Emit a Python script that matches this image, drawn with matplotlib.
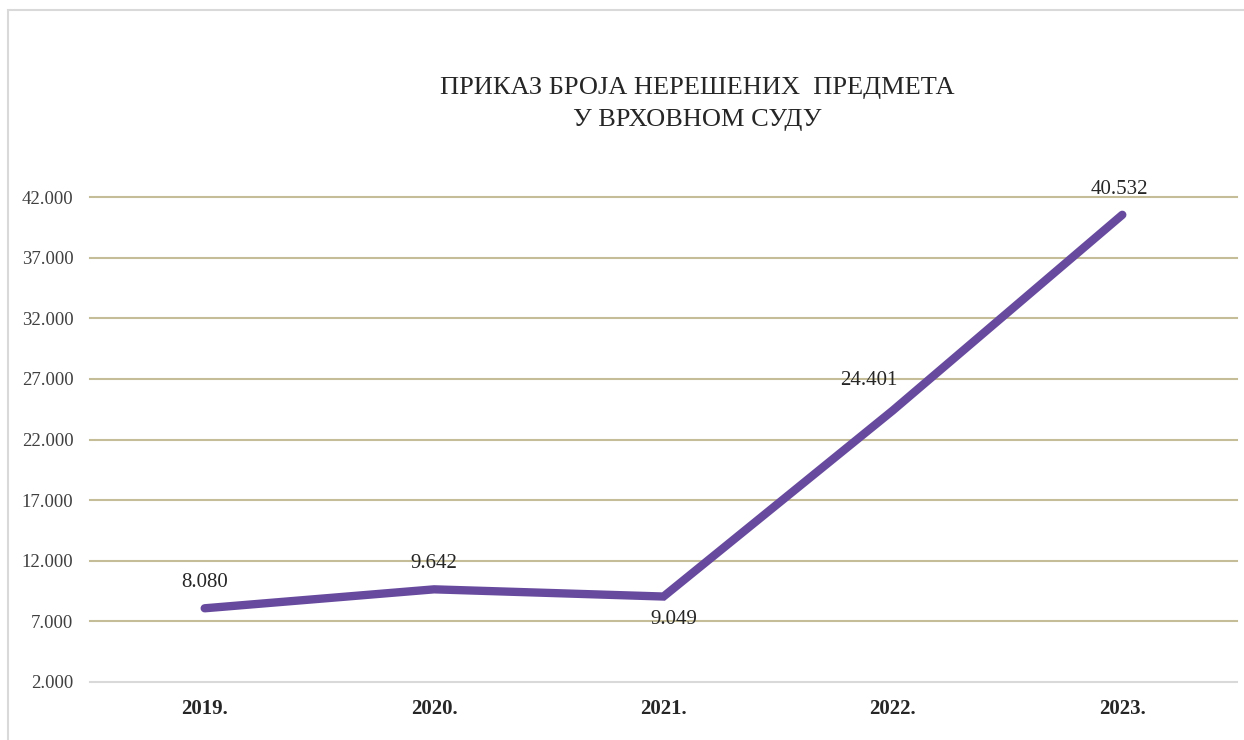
import matplotlib.pyplot as plt
from matplotlib.patches import Rectangle
from matplotlib.ticker import FuncFormatter

years = ['2019.', '2020.', '2021.', '2022.', '2023.']
unresolved = [8080, 9642, 9049, 24401, 40532]
tick_values = [2000, 7000, 12000, 17000, 22000, 27000, 32000, 37000, 42000]
# label offsets in pixels (dx, dy) relative to each point
label_offsets = [(0, 26), (0, 26), (10, -23), (-24, 30), (-3, 25)]

plt.rcParams['font.family'] = ['Liberation Serif', 'DejaVu Serif']

figure = plt.figure(figsize=(12.44, 7.4), dpi=100)
axes = figure.add_axes([90 / 1244, 58 / 740, 1147 / 1244, 485 / 740])

# outer frame (only left and top edges visible)
figure.patches.append(Rectangle((8 / 1244, -0.1), 1.2, 0.1 + 730 / 740,
                                transform=figure.transFigure, fill=False,
                                edgecolor='#D9D9D9', linewidth=1.5))

x = list(range(len(years)))
axes.plot(x, unresolved, color='#674A9E', linewidth=6, solid_capstyle='round',
          solid_joinstyle='miter', zorder=3)

for xi, value, (dx, dy) in zip(x, unresolved, label_offsets):
    axes.annotate(f'{value / 1000:.3f}', (xi, value), xytext=(dx, dy),
                  textcoords='offset pixels', ha='center', va='center',
                  fontsize=15, color='#262626')

axes.set_xlim(-0.5, len(years) - 0.5)
axes.set_ylim(2000, 42000)
axes.set_yticks(tick_values)
axes.yaxis.set_major_formatter(FuncFormatter(lambda v, p: f'{v / 1000:.3f}'))
axes.set_xticks(x)
axes.set_xticklabels(years, fontweight='bold', fontsize=15, color='#262626')
axes.tick_params(axis='y', labelsize=13.5, labelcolor='#404040', length=0, pad=12)
axes.tick_params(axis='x', length=0, pad=12)

for value in tick_values[1:]:
    axes.axhline(value, color='#C4BD97', linewidth=1.5, zorder=1, clip_on=False)

for side in ['top', 'right', 'left']:
    axes.spines[side].set_visible(False)
axes.spines['bottom'].set_color('#D9D9D9')
axes.spines['bottom'].set_linewidth(1.5)

figure.text(697 / 1244, 1 - 88 / 740, 'ПРИКАЗ БРОЈА НЕРЕШЕНИХ  ПРЕДМЕТА',
            ha='center', va='center', fontsize=19, color='#262626')
figure.text(697 / 1244, 1 - 120 / 740, 'У ВРХОВНОМ СУДУ',
            ha='center', va='center', fontsize=19, color='#262626')

figure.savefig('out.png', dpi=100)
